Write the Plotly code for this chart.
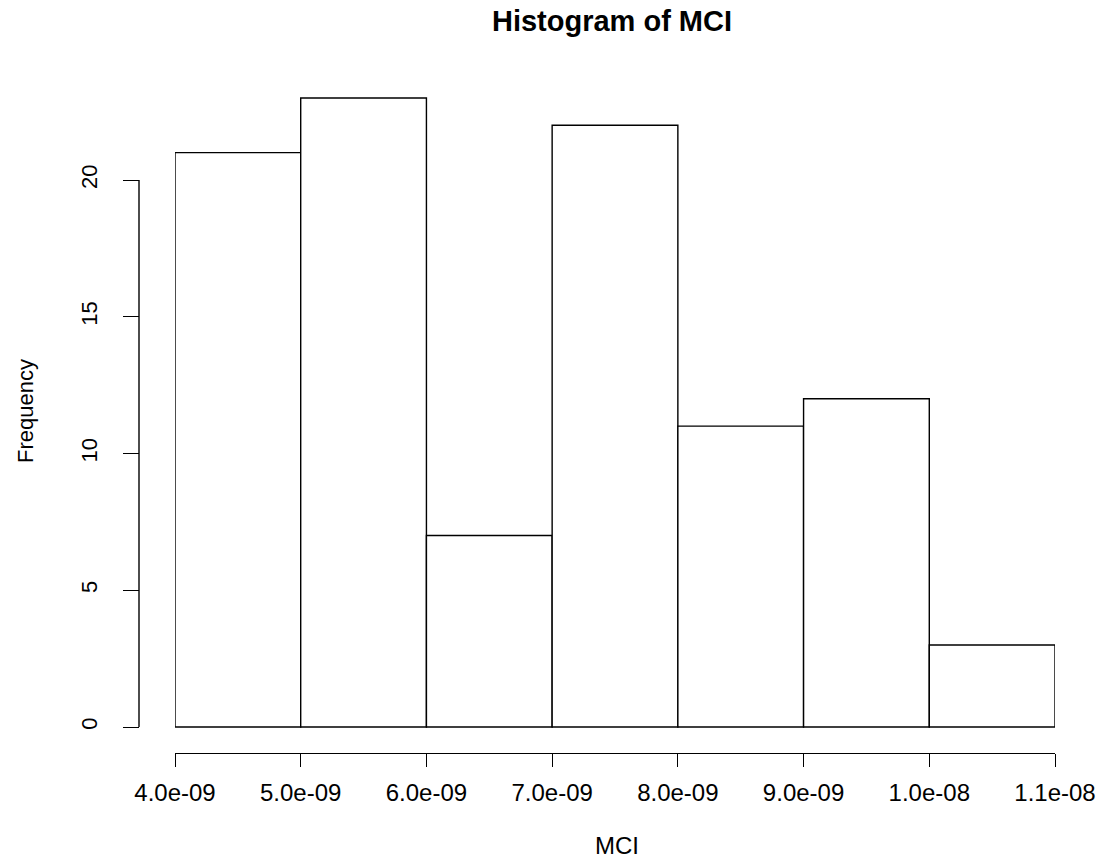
import plotly.graph_objects as go

# Data
bin_edges = [4.0e-09, 5.0e-09, 6.0e-09, 7.0e-09, 8.0e-09, 9.0e-09, 1.0e-08, 1.1e-08]
counts = [21, 23, 7, 22, 11, 12, 3]
x_tick_labels = ["4.0e-09", "5.0e-09", "6.0e-09", "7.0e-09", "8.0e-09", "9.0e-09", "1.0e-08", "1.1e-08"]
y_ticks = [0, 5, 10, 15, 20]

W, H = 1107, 861
FONT = "Liberation Sans, Arial, sans-serif"

centers = [(a + b) / 2 for a, b in zip(bin_edges[:-1], bin_edges[1:])]
widths = [b - a for a, b in zip(bin_edges[:-1], bin_edges[1:])]

# pixel layout
x_left_px, x_right_px = 175, 1055
y0_px, y20_px = 727, 180
px_per_unit = (y0_px - y20_px) / 20.0
axis_bottom_px = 753
top_px = 80
yaxis_px = 139

y_lo = -(axis_bottom_px - y0_px) / px_per_unit
y_hi = (y0_px - top_px) / px_per_unit

fig = go.Figure()
fig.add_trace(go.Bar(
    x=centers, y=counts, width=widths,
    marker=dict(color="white", line=dict(color="black", width=1.4)),
    showlegend=False, hoverinfo="skip",
))

fig.update_layout(
    width=W, height=H,
    margin=dict(l=0, r=0, t=0, b=0, autoexpand=False),
    paper_bgcolor="white", plot_bgcolor="white",
    font=dict(family=FONT, color="black"),
    title=dict(text="<b>Histogram of MCI</b>", x=612 / W, xanchor="center",
               y=1 - 21 / H, yanchor="middle", automargin=False,
               font=dict(size=29, family=FONT, color="black")),
    xaxis=dict(
        domain=[x_left_px / W, x_right_px / W],
        range=[bin_edges[0], bin_edges[-1]],
        tickmode="array", tickvals=bin_edges, ticktext=x_tick_labels,
        ticks="outside", ticklen=13, tickwidth=1.4, tickcolor="black",
        showline=True, linecolor="black", linewidth=1.4,
        showgrid=False, zeroline=False, automargin=False,
        tickfont=dict(size=24, family=FONT, color="black"),
        ticklabelstandoff=5,
    ),
    yaxis=dict(
        domain=[(H - axis_bottom_px) / H, (H - top_px) / H],
        range=[y_lo, y_hi],
        anchor="free", position=yaxis_px / W,
        tickmode="array", tickvals=y_ticks, ticktext=[str(v) for v in y_ticks],
        ticks="outside", ticklen=16, tickwidth=1.4, tickcolor="black",
        showline=False, showgrid=False, zeroline=False, automargin=False,
        tickangle=-90,
        tickfont=dict(size=22, family=FONT, color="black"),
        ticklabelstandoff=17,
    ),
    annotations=[
        dict(text="MCI", x=617 / W, y=1 - 845 / H, xref="paper", yref="paper",
             showarrow=False, xanchor="center", yanchor="middle",
             font=dict(size=24, family=FONT, color="black")),
        dict(text="Frequency", x=25 / W, y=1 - 411 / H, xref="paper", yref="paper",
             showarrow=False, xanchor="center", yanchor="middle", textangle=-90,
             font=dict(size=22, family=FONT, color="black")),
    ],
    shapes=[
        dict(type="line", xref="paper", yref="y",
             x0=yaxis_px / W, x1=yaxis_px / W, y0=y_ticks[0], y1=y_ticks[-1],
             line=dict(color="black", width=1.4)),
    ],
)

fig.write_html("out.html")
